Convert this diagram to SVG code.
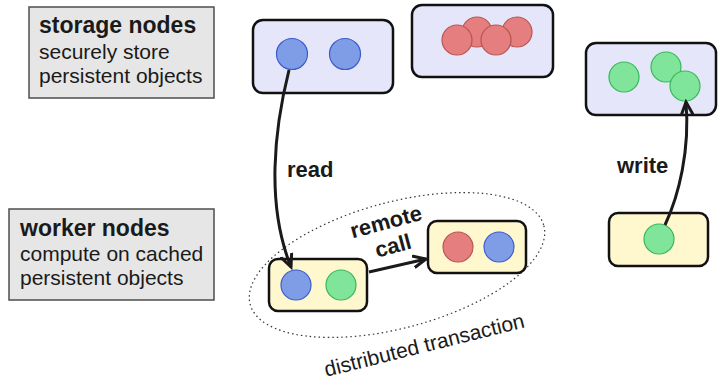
<svg xmlns="http://www.w3.org/2000/svg" width="718" height="382" viewBox="0 0 718 382">
<style>
.lbl{fill:#e6e6e6;stroke:#4d4d4d;stroke-width:1.5}
.sto{fill:#e6e6fb;stroke:#111;stroke-width:2.5}
.wrk{fill:#fff8cf;stroke:#111;stroke-width:2.5}
.b{fill:#7f9de6;stroke:#3a5bcc;stroke-width:1.2}
.r{fill:#e57f7f;stroke:#b85450;stroke-width:1.2}
.g{fill:#80e59a;stroke:#35b858;stroke-width:1.2}
.t{font-family:"Liberation Sans",Arial,sans-serif;fill:#1a1a1a}
.tb{font-family:"Liberation Sans",Arial,sans-serif;font-weight:bold;fill:#1a1a1a}
.con{fill:none;stroke:#1a1a1a;stroke-width:3;marker-end:url(#arr)}
</style>
<defs>
<marker id="arr" markerUnits="userSpaceOnUse" markerWidth="16" markerHeight="16" refX="13" refY="7" orient="auto" viewBox="0 0 16 14">
<path d="M1,1.5 L13,7 L1,12.5" fill="none" stroke="#1a1a1a" stroke-width="3" stroke-linecap="round" stroke-linejoin="miter"/>
</marker>
</defs>
<rect width="718" height="382" fill="#fff"/>

<g id="storage-label">
<rect class="lbl" x="29" y="7" width="185" height="91"/>
<text class="tb" x="39" y="33" font-size="23">storage nodes</text>
<text class="t" x="39" y="59" font-size="21">securely store</text>
<text class="t" x="39" y="83" font-size="21">persistent objects</text>
</g>

<g id="worker-label">
<rect class="lbl" x="9" y="209" width="205" height="91"/>
<text class="tb" x="20" y="236" font-size="23">worker nodes</text>
<text class="t" x="20" y="261" font-size="21">compute on cached</text>
<text class="t" x="20" y="285" font-size="21">persistent objects</text>
</g>

<g id="transaction">
<ellipse cx="397" cy="265" rx="152" ry="63" transform="rotate(-15 397 265)" fill="none" stroke="#333" stroke-width="1.2" stroke-dasharray="1.5 3"/>
<text class="t" x="426" y="352" font-size="21" text-anchor="middle" transform="rotate(-14 426 352)">distributed transaction</text>
</g>

<g id="storage1">
<rect class="sto" x="253" y="20" width="140" height="73" rx="10"/>
<circle class="b" cx="292" cy="54" r="15.5"/>
<circle class="b" cx="345" cy="54" r="15.5"/>
</g>

<g id="storage2">
<rect class="sto" x="412" y="5" width="141" height="72" rx="10"/>
<circle class="r" cx="477" cy="32" r="15"/>
<circle class="r" cx="517" cy="32" r="15"/>
<circle class="r" cx="457" cy="40" r="15"/>
<circle class="r" cx="496" cy="40" r="15"/>
</g>

<g id="storage3">
<rect class="sto" x="586" y="43" width="130" height="72" rx="10"/>
<circle class="g" cx="624" cy="77" r="15"/>
<circle class="g" cx="666" cy="67" r="15"/>
<circle class="g" cx="685" cy="86" r="15"/>
</g>

<g id="worker1">
<rect class="wrk" x="269" y="259" width="98" height="52" rx="9"/>
<circle class="b" cx="296" cy="285" r="15"/>
<circle class="g" cx="341" cy="285" r="15"/>
</g>

<g id="worker2">
<rect class="wrk" x="428" y="221" width="98" height="52" rx="9"/>
<circle class="r" cx="458" cy="247" r="15"/>
<circle class="b" cx="499" cy="247" r="15"/>
</g>

<g id="worker3">
<rect class="wrk" x="609" y="213" width="99" height="53" rx="9"/>
<circle class="g" cx="659" cy="239" r="15"/>
</g>

<g id="connectors">
<path class="con" d="M289,70 C274,130 266,205 291,267"/>
<path class="con" d="M369,272 L426,259"/>
<path class="con" d="M665,225 C679,195 690,150 686,102"/>
<text class="tb" x="287" y="177" font-size="22">read</text>
<text class="tb" x="617" y="173" font-size="22">write</text>
<text class="tb" x="388" y="229" font-size="22" text-anchor="middle" transform="rotate(-15 388 229)">remote</text>
<text class="tb" x="395" y="253" font-size="22" text-anchor="middle" transform="rotate(-15 395 253)">call</text>
</g>
</svg>
